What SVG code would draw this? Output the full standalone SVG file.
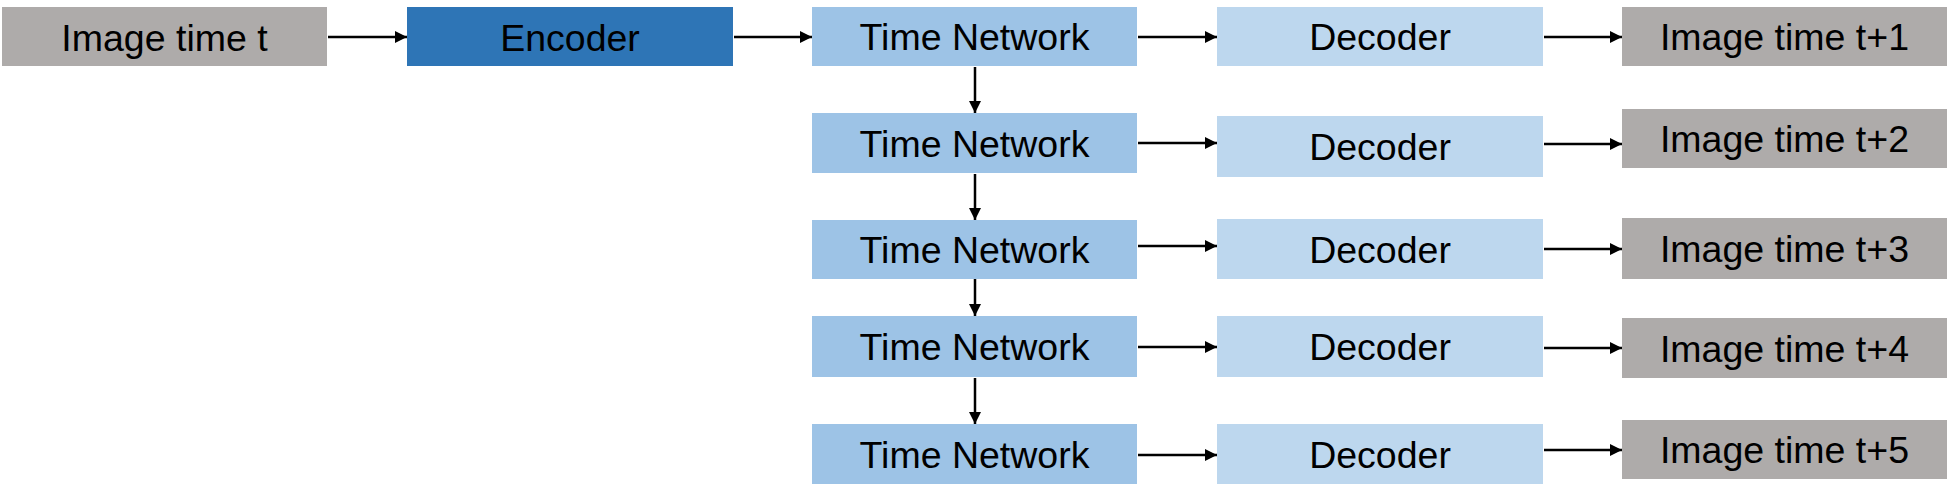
<svg xmlns="http://www.w3.org/2000/svg" width="1947" height="497" viewBox="0 0 1947 497">
<style>
.img{fill:#AEABAA}
.enc{fill:#2E75B6}
.tn{fill:#9DC3E6}
.dec{fill:#BDD7EE}
text{font-family:"Liberation Sans",Arial,sans-serif;font-size:37.5px;fill:#000;text-anchor:middle}
.c line{stroke:#000;stroke-width:2.5;marker-end:url(#ah)}
</style>
<defs>
<marker id="ah" markerUnits="userSpaceOnUse" markerWidth="12" markerHeight="12" refX="12" refY="6" orient="auto">
<path d="M0,0 L12,6 L0,12 Z" fill="#000"/>
</marker>
</defs>
<g id="img-t"><rect class="img" x="2" y="7" width="325" height="59"/><text x="164.5" y="51">Image time t</text></g>
<g id="encoder"><rect class="enc" x="407" y="7" width="326" height="59"/><text x="570" y="51">Encoder</text></g>
<g id="tn1"><rect class="tn" x="812" y="7" width="325" height="59"/><text x="974.5" y="50">Time Network</text></g>
<g id="tn2"><rect class="tn" x="812" y="113" width="325" height="60"/><text x="974.5" y="156.5">Time Network</text></g>
<g id="tn3"><rect class="tn" x="812" y="220" width="325" height="59"/><text x="974.5" y="263">Time Network</text></g>
<g id="tn4"><rect class="tn" x="812" y="316" width="325" height="61"/><text x="974.5" y="360">Time Network</text></g>
<g id="tn5"><rect class="tn" x="812" y="424" width="325" height="60"/><text x="974.5" y="467.5">Time Network</text></g>
<g id="dec1"><rect class="dec" x="1217" y="7" width="326" height="59"/><text x="1380" y="50">Decoder</text></g>
<g id="dec2"><rect class="dec" x="1217" y="116" width="326" height="61"/><text x="1380" y="160">Decoder</text></g>
<g id="dec3"><rect class="dec" x="1217" y="219" width="326" height="60"/><text x="1380" y="262.5">Decoder</text></g>
<g id="dec4"><rect class="dec" x="1217" y="316" width="326" height="61"/><text x="1380" y="360">Decoder</text></g>
<g id="dec5"><rect class="dec" x="1217" y="424" width="326" height="60"/><text x="1380" y="467.5">Decoder</text></g>
<g id="img1"><rect class="img" x="1622" y="7" width="325" height="59"/><text x="1784.5" y="50">Image time t+1</text></g>
<g id="img2"><rect class="img" x="1622" y="109" width="325" height="59"/><text x="1784.5" y="152">Image time t+2</text></g>
<g id="img3"><rect class="img" x="1622" y="218" width="325" height="61"/><text x="1784.5" y="262">Image time t+3</text></g>
<g id="img4"><rect class="img" x="1622" y="318" width="325" height="60"/><text x="1784.5" y="361.5">Image time t+4</text></g>
<g id="img5"><rect class="img" x="1622" y="420" width="325" height="59"/><text x="1784.5" y="463">Image time t+5</text></g>
<g id="connectors" class="c">
<line x1="328" y1="37" x2="407" y2="37"/>
<line x1="734" y1="37" x2="812" y2="37"/>
<line x1="1138" y1="37" x2="1217" y2="37"/>
<line x1="1544" y1="37" x2="1622" y2="37"/>
<line x1="1138" y1="143" x2="1217" y2="143"/>
<line x1="1544" y1="144" x2="1622" y2="144"/>
<line x1="1138" y1="246" x2="1217" y2="246"/>
<line x1="1544" y1="249" x2="1622" y2="249"/>
<line x1="1138" y1="347" x2="1217" y2="347"/>
<line x1="1544" y1="348" x2="1622" y2="348"/>
<line x1="1138" y1="455" x2="1217" y2="455"/>
<line x1="1544" y1="450" x2="1622" y2="450"/>
<line x1="975" y1="67" x2="975" y2="113"/>
<line x1="975" y1="174" x2="975" y2="220"/>
<line x1="975" y1="279" x2="975" y2="316"/>
<line x1="975" y1="378" x2="975" y2="424"/>
</g>
</svg>
